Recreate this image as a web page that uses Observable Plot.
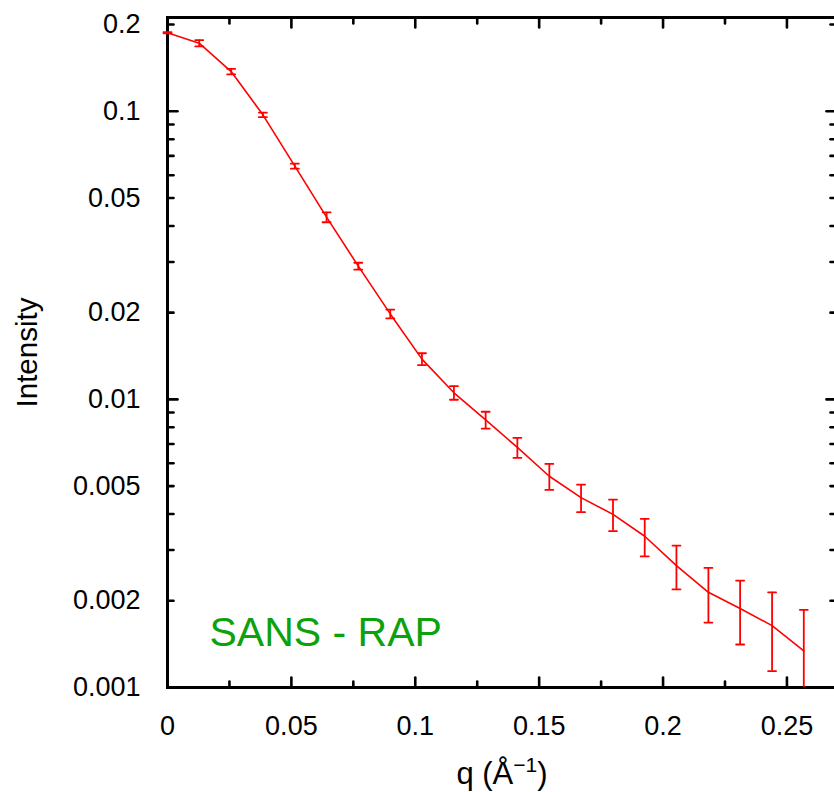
<!DOCTYPE html>
<html>
<head>
<meta charset="utf-8">
<script src="https://cdn.jsdelivr.net/npm/d3@7"></script>
<script src="https://cdn.jsdelivr.net/npm/@observablehq/plot@0.6"></script>
<style>
  html, body { margin: 0; padding: 0; background: white; overflow: hidden; }
  #wrap { width: 834px; height: 792px; overflow: hidden; }
  #wrap svg { max-width: none !important; }
</style>
</head>
<body>
<div id="wrap"></div>
<script>
// ---- data ----
const q = [0, 0.0128, 0.0257, 0.0385, 0.0514, 0.0642, 0.0770, 0.0899, 0.1027, 0.1156, 0.1284,
           0.1412, 0.1541, 0.1669, 0.1798, 0.1926, 0.2054, 0.2183, 0.2311, 0.2440, 0.2568];
const intensity = [0.1873, 0.1723, 0.1374, 0.0972, 0.0645, 0.0429, 0.0290, 0.0198, 0.0138, 0.01054, 0.00849,
                   0.00681, 0.00541, 0.00456, 0.00399, 0.00335, 0.00265, 0.00214, 0.00188, 0.00164, 0.00134];
const err = [0.0008, 0.0044, 0.0030, 0.0018, 0.0013, 0.0017, 0.0008, 0.0007, 0.00066, 0.00057, 0.00057,
             0.00054, 0.00056, 0.0005, 0.0005, 0.0005, 0.00046, 0.00046, 0.00047, 0.0005, 0.00052];

const xTicks = [0, 0.05, 0.1, 0.15, 0.2, 0.25];
const xTickLabels = ["0", "0.05", "0.1", "0.15", "0.2", "0.25"];
const xMinorTicks = [0.025, 0.075, 0.125, 0.175, 0.225];
const yTicks = [0.001, 0.002, 0.005, 0.01, 0.02, 0.05, 0.1, 0.2];
const yTickLabels = ["0.001", "0.002", "0.005", "0.01", "0.02", "0.05", "0.1", "0.2"];
const yMajorTicks = [0.001, 0.01, 0.1];
const xLabel = "q (Å−1)";
const yLabel = "Intensity";
const annotation = "SANS - RAP";

const xDomain = [0, 0.27];
const yDomain = [0.001, 0.2116];

// ---- derived ----
const data = q.map((d, i) => ({q: d, I: intensity[i], lo: intensity[i] - err[i], hi: intensity[i] + err[i]}));
const yMinorTicks = d3.scaleLog().domain(yDomain).ticks().filter(v => !yMajorTicks.some(m => Math.abs(m - v) / m < 1e-9));

const red = "#ff0000";
const tickShape = {draw(context, l) { context.moveTo(0, 0); context.lineTo(0, -l); }};

function ticks(values, len, side) {
  const base = {length: len, anchor: "start", shape: tickShape, stroke: "black", strokeWidth: 2.6};
  if (side === "left") return Plot.vector(values, {...base, y: d => d, frameAnchor: "left", rotate: 90});
  if (side === "right") return Plot.vector(values, {...base, y: d => d, frameAnchor: "right", rotate: -90});
  if (side === "top") return Plot.vector(values, {...base, x: d => d, frameAnchor: "top", rotate: 180});
  return Plot.vector(values, {...base, x: d => d, frameAnchor: "bottom", rotate: 0});
}

const svg = Plot.plot({
  width: 840,
  height: 792,
  marginLeft: 167,
  marginRight: 4,
  marginTop: 17,
  marginBottom: 105,
  style: {fontFamily: "'Liberation Sans', Arial, sans-serif", color: "black", background: "white", maxWidth: "none"},
  x: {domain: xDomain},
  y: {type: "log", domain: yDomain},
  marks: [
    Plot.frame({stroke: "black", strokeWidth: 3}),
    ticks(yMajorTicks, 10, "left"),
    ticks(yMinorTicks, 6, "left"),
    ticks(yMajorTicks, 10, "right"),
    ticks(yMinorTicks, 6, "right"),
    ticks(xTicks, 10, "bottom"),
    ticks(xMinorTicks, 6, "bottom"),
    ticks(xTicks, 10, "top"),
    ticks(xMinorTicks, 6, "top"),
    Plot.axisX({ticks: xTicks, tickFormat: d => xTickLabels[xTicks.indexOf(d)], tickSize: 0, tickPadding: 28, fontSize: 27, label: null}),
    Plot.axisY({ticks: yTicks, tickFormat: d => yTickLabels[yTicks.indexOf(d)], tickSize: 0, tickPadding: 27, fontSize: 27, label: null}),
    Plot.text([yLabel], {frameAnchor: "left", dx: -140, rotate: -90, textAnchor: "middle", lineAnchor: "middle", fontSize: 29.5, fill: "black"}),
    Plot.text([xLabel], {frameAnchor: "bottom", dy: 87, textAnchor: "middle", lineAnchor: "middle", fontSize: 31, fill: "black"}),
    Plot.text([annotation], {frameAnchor: "bottom-left", dx: 42, dy: -55, textAnchor: "start", lineAnchor: "middle", fontSize: 41, fill: "#0ca20c"}),
    Plot.ruleX(data, {x: "q", y1: d => Math.max(d.lo, yDomain[0]), y2: "hi", stroke: red, strokeWidth: 1.8}),
    Plot.vector(data.filter(d => d.lo >= yDomain[0]), {x: "q", y: "lo", length: 8, rotate: 90, anchor: "middle", shape: tickShape, stroke: red, strokeWidth: 1.8}),
    Plot.vector(data, {x: "q", y: "hi", length: 8, rotate: 90, anchor: "middle", shape: tickShape, stroke: red, strokeWidth: 1.8}),
    Plot.line(data, {x: "q", y: "I", stroke: red, strokeWidth: 1.6})
  ]
});

// superscript for the x label
svg.querySelectorAll("text").forEach(t => {
  if (t.textContent === xLabel) {
    t.textContent = "";
    const ns = "http://www.w3.org/2000/svg";
    const a = document.createElementNS(ns, "tspan"); a.textContent = "q (Å";
    const b = document.createElementNS(ns, "tspan"); b.textContent = "−1"; b.setAttribute("font-size", "21"); b.setAttribute("dy", "-12");
    const c = document.createElementNS(ns, "tspan"); c.textContent = ")"; c.setAttribute("dy", "12");
    t.append(a, b, c);
  }
});

svg.style.maxWidth = "none";
document.getElementById("wrap").appendChild(svg);
</script>
</body>
</html>
